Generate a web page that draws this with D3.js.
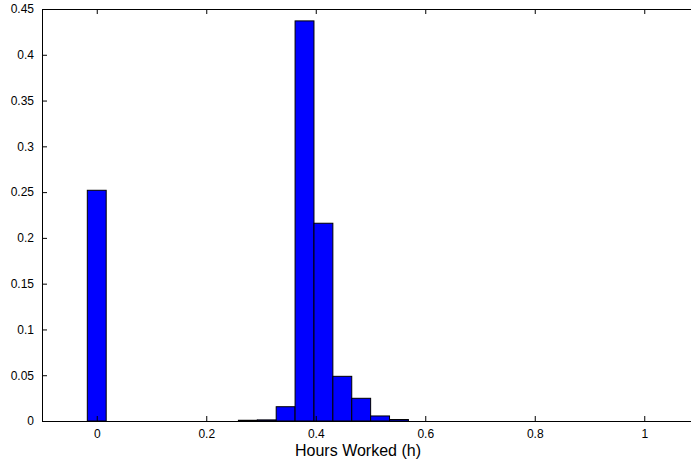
<!DOCTYPE html>
<html>
<head>
<meta charset="utf-8">
<script src="https://cdn.jsdelivr.net/npm/d3@7"></script>
<style>
  body { margin: 0; background: #fff; }
  text { font-family: "Liberation Sans", Arial, sans-serif; }
</style>
</head>
<body>
<svg id="chart" width="691" height="464"></svg>
<script>
// histogram bins: bin index (center = index * binWidth) and relative frequency
const binWidth = 0.0345;
const binIndex = [0, 8, 9, 10, 11, 12, 13, 14, 15, 16];
const freq = [0.252, 0.0008, 0.0012, 0.0156, 0.437, 0.216, 0.0488, 0.0248, 0.0055, 0.0016];
const xTicks = [0, 0.2, 0.4, 0.6, 0.8, 1];
const yTicks = [0, 0.05, 0.1, 0.15, 0.2, 0.25, 0.3, 0.35, 0.4, 0.45];

const svg = d3.select("#chart");
const mLeft = 42, mTop = 9, mBottom = 421, mRight = 699;

// scales
const x = d3.scaleLinear().domain([-0.1, 1.1]).range([mLeft, mRight]);
const y = d3.scaleLinear().domain([0, 0.45]).range([mBottom, mTop]);

// bars
svg.append("g")
    .selectAll("rect")
    .data(binIndex.map((k, i) => ({c: k * binWidth, v: freq[i]})))
    .enter().append("rect")
    .attr("x", d => x(d.c - binWidth / 2))
    .attr("width", d => x(d.c + binWidth / 2) - x(d.c - binWidth / 2))
    .attr("y", d => y(d.v))
    .attr("height", d => y(0) - y(d.v))
    .style("fill", "#0000ff")
    .style("stroke", "#000")
    .style("stroke-width", 1);

// axes (ticks pointing inward like matlab)
const xAxis = svg.append("g")
    .attr("transform", `translate(0,${mBottom})`)
    .call(d3.axisBottom(x).tickValues(xTicks).tickSizeInner(-5).tickSizeOuter(0).tickPadding(8)
        .tickFormat(d => d === 0 ? "0" : d === 1 ? "1" : d3.format(".1f")(d)));
const xTop = svg.append("g")
    .attr("transform", `translate(0,${mTop})`)
    .call(d3.axisTop(x).tickValues(xTicks).tickSizeInner(-5).tickSizeOuter(0).tickFormat(""));
const yAxis = svg.append("g")
    .attr("transform", `translate(${mLeft},0)`)
    .call(d3.axisLeft(y).tickValues(yTicks).tickSizeInner(-5).tickSizeOuter(0).tickPadding(8)
        .tickFormat(d => d === 0 ? "0" : String(+d.toFixed(2))));

[xAxis, xTop, yAxis].forEach(g => {
    g.select(".domain").attr("stroke", "#000").attr("stroke-width", 1);
    g.selectAll(".tick line").attr("stroke", "#000");
    g.selectAll(".tick text").attr("font-size", 12).attr("fill", "#000")
        .style("font-family", "Liberation Sans, Arial, sans-serif");
});

svg.append("text")
    .attr("x", 358)
    .attr("y", 456)
    .attr("text-anchor", "middle")
    .attr("font-size", 16)
    .text("Hours Worked (h)");
</script>
</body>
</html>
